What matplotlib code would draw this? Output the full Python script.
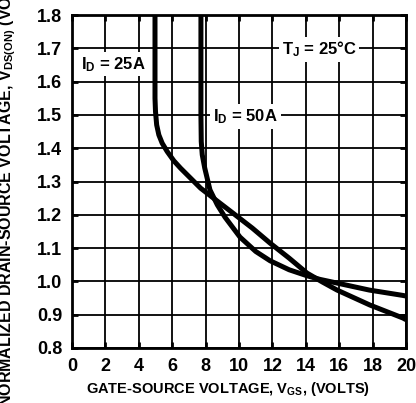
import matplotlib
matplotlib.use("Agg")
import matplotlib.pyplot as plt

plt.rcParams['font.family'] = ['Liberation Sans', 'DejaVu Sans']
plt.rcParams['mathtext.fontset'] = 'custom'
plt.rcParams['mathtext.rm'] = 'Liberation Sans:bold'
plt.rcParams['mathtext.bf'] = 'Liberation Sans:bold'
plt.rcParams['mathtext.default'] = 'bf'

# Data
vgs_25a = [4.97, 4.97, 5.0, 5.07, 5.2, 5.4, 5.7, 6.1, 6.5, 7.1, 7.7, 8.6, 9.64, 10.8,
           11.86, 13.0, 14.07, 15.0, 15.87, 17.84, 19.82, 20.0]
vds_25a = [1.85, 1.55, 1.51, 1.47, 1.44, 1.415, 1.39, 1.362, 1.34, 1.31, 1.28, 1.245,
           1.205, 1.16, 1.115, 1.07, 1.025, 0.998, 0.974, 0.929, 0.89, 0.885]

vgs_50a = [7.72, 7.72, 7.74, 7.8, 7.95, 8.26, 8.7, 9.16, 10.06, 11.0, 11.86, 13.0,
           14.07, 14.85, 15.87, 17.8, 19.8, 20.0]
vds_50a = [1.85, 1.50, 1.42, 1.38, 1.34, 1.275, 1.23, 1.193, 1.133, 1.09, 1.062, 1.035,
           1.017, 1.006, 0.995, 0.974, 0.958, 0.956]

x_ticks = [0, 2, 4, 6, 8, 10, 12, 14, 16, 18, 20]
y_ticks = [0.8, 0.9, 1.0, 1.1, 1.2, 1.3, 1.4, 1.5, 1.6, 1.7, 1.8]
y_tick_labels = ["0.8", "0.9", "1.0", "1.1", "1.2", "1.3", "1.4", "1.5", "1.6", "1.7", "1.8"]

fig = plt.figure(figsize=(4.16, 4.03), dpi=100)
ax = fig.add_axes([72/416, 55/403, 334/416, 333/403])

ax.set_xlim(0, 20)
ax.set_ylim(0.8, 1.8)
ax.set_xticks(x_ticks)
ax.set_yticks(y_ticks)
ax.set_xticklabels([str(t) for t in x_ticks], fontsize=13, fontweight='bold')
ax.set_yticklabels(y_tick_labels, fontsize=13, fontweight='bold')
ax.grid(True, color='black', linewidth=1.3)
ax.set_axisbelow(True)
for s in ax.spines.values():
    s.set_linewidth(2)
ax.tick_params(axis='both', direction='in', length=4, width=2, top=True, right=True)
ax.tick_params(axis='y', pad=7)
ax.tick_params(axis='x', pad=7)

ax.plot(vgs_25a, vds_25a, color='black', linewidth=3.6, solid_joinstyle='round',
        solid_capstyle='butt', zorder=3)
ax.plot(vgs_50a, vds_50a, color='black', linewidth=3.6, solid_joinstyle='round',
        solid_capstyle='butt', zorder=3)

box = dict(facecolor='white', edgecolor='none', pad=2)
ax.text(0.55, 1.652, r'I$_\mathregular{D}$ = 25A', fontsize=12, fontweight='bold',
        va='center', ha='left', bbox=box, zorder=4)
ax.text(8.45, 1.495, r'I$_\mathregular{D}$ = 50A', fontsize=12, fontweight='bold',
        va='center', ha='left', bbox=box, zorder=4)
ax.text(12.55, 1.697, r'T$_\mathregular{J}$ = 25°C', fontsize=12, fontweight='bold',
        va='center', ha='left', bbox=box, zorder=4)

fig.text(228/416, 14/403, r'GATE-SOURCE VOLTAGE, V$_\mathregular{GS}$, (VOLTS)',
         fontsize=10.5, fontweight='bold', ha='center', va='center')
fig.text(8/416, -4/403,
         r'NORMALIZED DRAIN-SOURCE VOLTAGE, V$_\mathregular{DS(ON)}$ (VOLTS)',
         fontsize=11.5, fontweight='bold', rotation=90, ha='center', va='bottom')

fig.savefig('out.png', dpi=100)
